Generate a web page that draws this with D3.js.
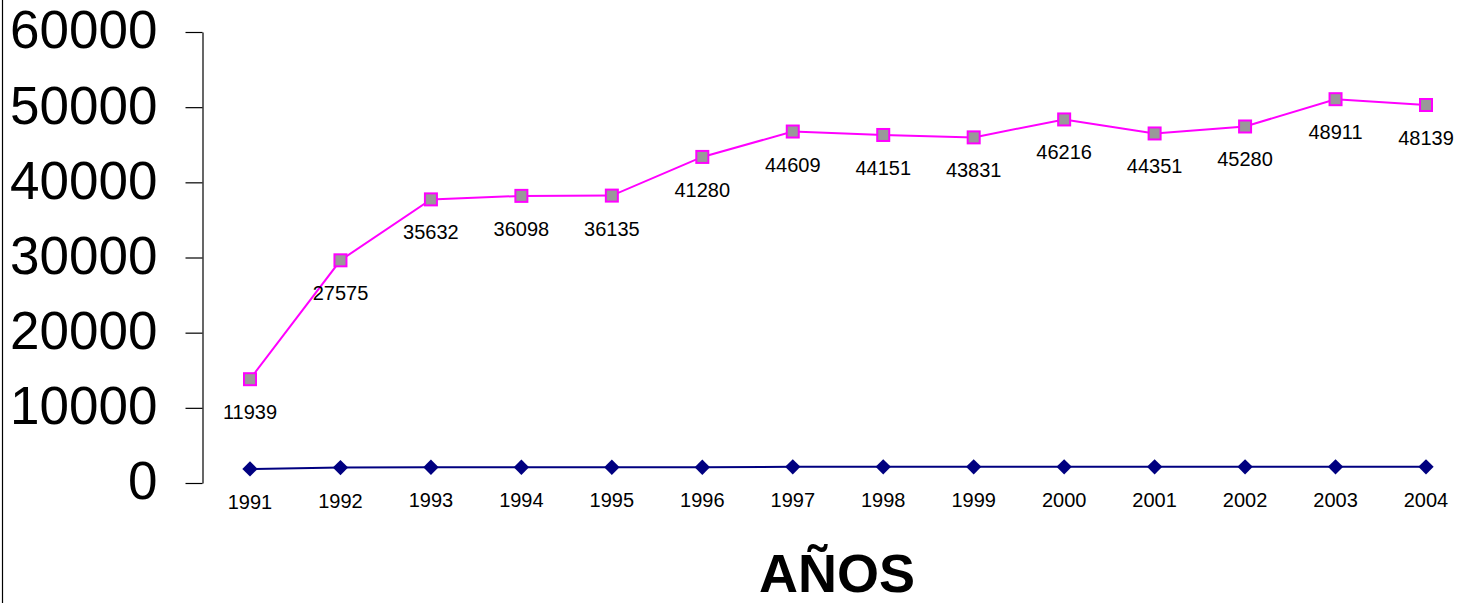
<!DOCTYPE html>
<html>
<head>
<meta charset="utf-8">
<script src="https://cdn.jsdelivr.net/npm/d3@7"></script>
<style>
  body { margin: 0; background: #fff; }
  text { font-family: "Liberation Sans", Arial, sans-serif; }
</style>
</head>
<body>
<svg width="1473" height="603"></svg>
<script>
// data (stacked lines: the pink one sits on top of the blue one)
const years = ['1991', '1992', '1993', '1994', '1995', '1996', '1997', '1998', '1999', '2000', '2001', '2002', '2003', '2004'];
const baseValues = [1870, 2050, 2100, 2100, 2100, 2100, 2150, 2150, 2150, 2150, 2150, 2150, 2150, 2150];
const topValues = [11939, 27575, 35632, 36098, 36135, 41280, 44609, 44151, 43831, 46216, 44351, 45280, 48911, 48139];
const yTicks = [0, 10000, 20000, 30000, 40000, 50000, 60000];

const rows = years.map((y, i) => ({ year: y, base: baseValues[i], top: topValues[i] }));
const stacked = d3.stack().keys(['base', 'top'])(rows);

const svg = d3.select('svg');

// frame line on the left
svg.append('line')
    .attr('x1', 2.5).attr('x2', 2.5)
    .attr('y1', 0).attr('y2', 603)
    .attr('stroke', '#000').attr('stroke-width', 1.2);

const xScale = d3.scalePoint()
    .domain(years)
    .range([250, 1426]);
const yScale = d3.scaleLinear()
    .domain([0, 60000])
    .range([483, 32]);

// y axis
const yAxis = svg.append('g')
    .attr('transform', 'translate(202.5,0)')
    .call(d3.axisLeft(yScale).tickValues(yTicks).tickFormat(d3.format('d'))
        .tickSize(17).tickSizeOuter(0).tickPadding(28));
yAxis.select('.domain').attr('stroke', '#000').attr('stroke-width', 1.2);
yAxis.selectAll('.tick line').attr('stroke', '#000').attr('stroke-width', 1.2);
yAxis.selectAll('.tick text')
    .attr('font-size', 53)
    .attr('font-family', '"Liberation Sans", Arial, sans-serif')
    .attr('fill', '#000')
    .attr('dy', '0.3em');

// blue (bottom) series
const baseLayer = stacked[0];
const line = d3.line()
    .x(d => xScale(d.data.year))
    .y(d => yScale(d[1]));

svg.append('path')
    .datum(baseLayer)
    .attr('d', line)
    .attr('fill', 'none')
    .attr('stroke', '#000080')
    .attr('stroke-width', 2);

svg.selectAll('.diamond')
    .data(baseLayer)
    .enter()
    .append('path')
    .classed('diamond', true)
    .attr('d', d3.symbol(d3.symbolDiamond2, 150))
    .attr('transform', d => `translate(${xScale(d.data.year)},${yScale(d[1])})`)
    .attr('fill', '#000080');

svg.selectAll('.year-label')
    .data(baseLayer)
    .enter()
    .append('text')
    .classed('year-label', true)
    .attr('x', d => xScale(d.data.year))
    .attr('y', d => yScale(d[1]) + 40)
    .attr('text-anchor', 'middle')
    .attr('font-size', 20)
    .text(d => d.data.year);

// pink (top) series
const topLayer = stacked[1];
svg.append('path')
    .datum(topLayer)
    .attr('d', line)
    .attr('fill', 'none')
    .attr('stroke', '#ff00ff')
    .attr('stroke-width', 2);

svg.selectAll('.square')
    .data(topLayer)
    .enter()
    .append('rect')
    .classed('square', true)
    .attr('x', d => xScale(d.data.year) - 6)
    .attr('y', d => yScale(d[1]) - 6)
    .attr('width', 12)
    .attr('height', 12)
    .attr('fill', '#999999')
    .attr('stroke', '#ff00ff')
    .attr('stroke-width', 2);

svg.selectAll('.value-label')
    .data(topLayer)
    .enter()
    .append('text')
    .classed('value-label', true)
    .attr('x', d => xScale(d.data.year))
    .attr('y', d => yScale(d[1]) + 40)
    .attr('text-anchor', 'middle')
    .attr('font-size', 20)
    .text(d => d.data.top);

// axis title
svg.append('text')
    .attr('x', 837)
    .attr('y', 592)
    .attr('text-anchor', 'middle')
    .attr('font-size', 54)
    .attr('font-weight', 'bold')
    .text('AÑOS');
</script>
</body>
</html>
